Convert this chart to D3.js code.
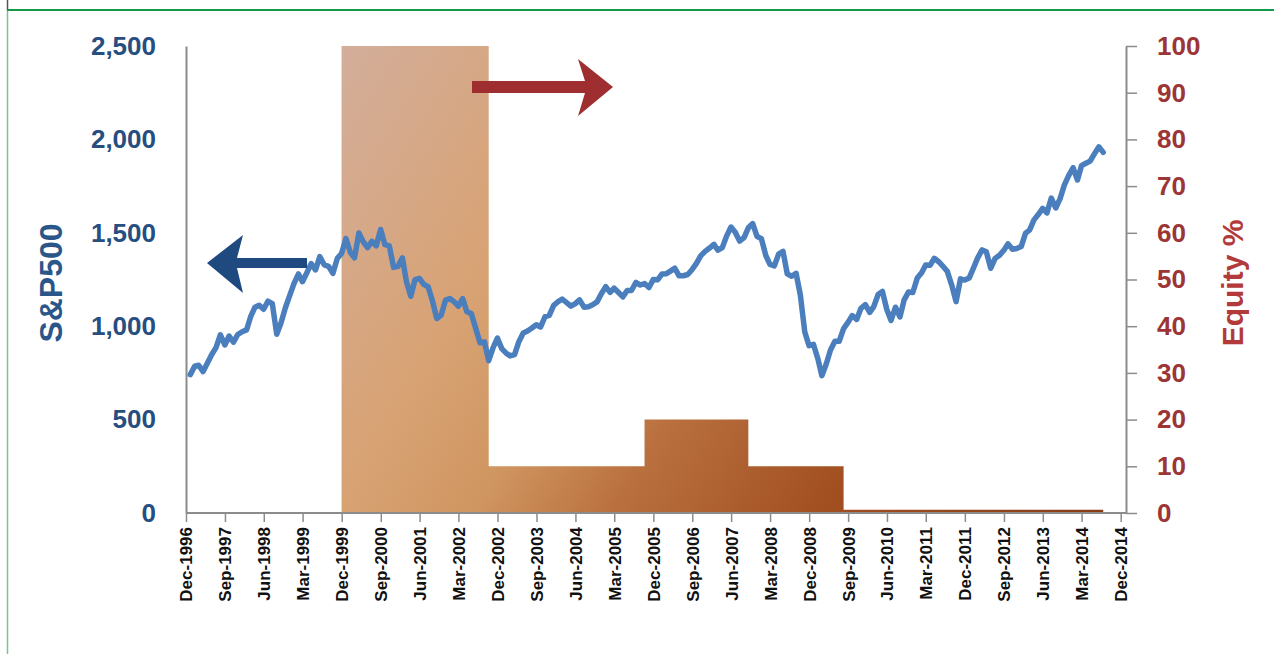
<!DOCTYPE html>
<html>
<head>
<meta charset="utf-8">
<script src="https://cdn.jsdelivr.net/npm/d3@7"></script>
<style>
  body { margin: 0; background: #fff; }
  svg { display: block; font-family: "Liberation Sans", Arial, sans-serif; font-weight: bold; }
</style>
</head>
<body>
<svg id="chart" width="1274" height="654"></svg>
<script>
// S&P500 month-end closes, Dec 1996 .. Jul 2014
const spxStart = "1996-12";
const spxCloses = [
  740.74,
  786.16, 790.82, 757.12, 801.34, 848.28, 885.14, 954.31, 899.47, 947.28, 914.62, 955.40, 970.43,
  980.28, 1049.34, 1101.75, 1111.75, 1090.82, 1133.84, 1120.67, 957.28, 1017.01, 1098.67, 1163.63, 1229.23,
  1279.64, 1238.33, 1286.37, 1335.18, 1301.84, 1372.71, 1328.72, 1320.41, 1282.71, 1362.93, 1388.91, 1469.25,
  1394.46, 1366.42, 1498.58, 1452.43, 1420.60, 1454.60, 1430.83, 1517.68, 1436.51, 1429.40, 1314.95, 1320.28,
  1366.01, 1239.94, 1160.33, 1249.46, 1255.82, 1224.38, 1211.23, 1133.58, 1040.94, 1059.78, 1139.45, 1148.08,
  1130.20, 1106.73, 1147.39, 1076.92, 1067.14, 989.82, 911.62, 916.07, 815.28, 885.76, 936.31, 879.82,
  855.70, 841.15, 848.18, 916.92, 963.59, 974.50, 990.31, 1008.01, 995.97, 1050.71, 1058.20, 1111.92,
  1131.13, 1144.94, 1126.21, 1107.30, 1120.68, 1140.84, 1101.72, 1104.24, 1114.58, 1130.20, 1173.82, 1211.92,
  1181.27, 1203.60, 1180.59, 1156.85, 1191.50, 1191.33, 1234.18, 1220.33, 1228.81, 1207.01, 1249.48, 1248.29,
  1280.08, 1280.66, 1294.83, 1310.61, 1270.09, 1270.20, 1276.66, 1303.82, 1335.85, 1377.94, 1400.63, 1418.30,
  1438.24, 1406.82, 1420.86, 1482.37, 1530.62, 1503.35, 1455.27, 1473.99, 1526.75, 1549.38, 1481.14, 1468.36,
  1378.55, 1330.63, 1322.70, 1385.59, 1400.38, 1280.00, 1267.38, 1282.83, 1166.36, 968.75, 896.24, 903.25,
  825.88, 735.09, 797.87, 872.81, 919.14, 919.32, 987.48, 1020.62, 1057.08, 1036.19, 1095.63, 1115.10,
  1073.87, 1104.49, 1169.43, 1186.69, 1089.41, 1030.71, 1101.60, 1049.33, 1141.20, 1183.26, 1180.55, 1257.64,
  1286.12, 1327.22, 1325.83, 1363.61, 1345.20, 1320.64, 1292.28, 1218.89, 1131.42, 1253.30, 1246.96, 1257.60,
  1312.41, 1365.68, 1408.47, 1397.91, 1310.33, 1362.16, 1379.32, 1406.58, 1440.67, 1412.16, 1416.18, 1426.19,
  1498.11, 1514.68, 1569.19, 1597.57, 1630.74, 1606.28, 1685.73, 1632.97, 1681.55, 1756.54, 1805.81, 1848.36,
  1782.59, 1859.45, 1872.34, 1883.95, 1923.57, 1960.23, 1930.67
];

// equity allocation (%), each level holds from the end of that month
const equityMonths = ["1996-12", "1999-11", "2002-09", "2005-09", "2007-09", "2009-07", "2014-07"];
const equityLevels = [0, 100, 10, 20, 10, 0.7, 0.7];

const xTickLabels = ["Dec-1996", "Sep-1997", "Jun-1998", "Mar-1999", "Dec-1999", "Sep-2000", "Jun-2001",
  "Mar-2002", "Dec-2002", "Sep-2003", "Jun-2004", "Mar-2005", "Dec-2005", "Sep-2006", "Jun-2007",
  "Mar-2008", "Dec-2008", "Sep-2009", "Jun-2010", "Mar-2011", "Dec-2011", "Sep-2012", "Jun-2013",
  "Mar-2014", "Dec-2014"];
const leftTicks = [0, 500, 1000, 1500, 2000, 2500];
const rightTicks = [0, 10, 20, 30, 40, 50, 60, 70, 80, 90, 100];

const parseMonth = d3.timeParse("%Y-%m");
const parseTick = d3.timeParse("%b-%Y");
const monthEnd = m => d3.timeDay.offset(d3.timeMonth.offset(m, 1), -1);

const plotL = 186, plotR = 1126, plotT = 46, plotB = 513;

const svg = d3.select("#chart");

// frame lines of the sheet
svg.append("line").attr("x1", 7.5).attr("x2", 7.5).attr("y1", 0).attr("y2", 10)
  .attr("stroke", "#555").attr("stroke-width", 1.5);
svg.append("line").attr("x1", 7.5).attr("x2", 7.5).attr("y1", 10).attr("y2", 654)
  .attr("stroke", "#74c693").attr("stroke-width", 1.5);
svg.append("line").attr("x1", 7).attr("x2", 1274).attr("y1", 10).attr("y2", 10)
  .attr("stroke", "#129a49").attr("stroke-width", 2);

const tickDates = xTickLabels.map(parseTick);
const x = d3.scaleTime()
  .domain([tickDates[0], tickDates[tickDates.length - 1]])
  .range([plotL, 1120.7]);
const yL = d3.scaleLinear().domain([0, 2500]).range([plotB, plotT]);
const yR = d3.scaleLinear().domain([0, 100]).range([plotB, plotT]);

// gradient for the equity area
const grad = svg.append("defs").append("linearGradient")
  .attr("id", "eqGrad").attr("gradientUnits", "userSpaceOnUse")
  .attr("x1", 340).attr("y1", 46).attr("x2", 1100).attr("y2", 513);
[[0, "#d3ae9b"], [0.27, "#d8a273"], [0.4, "#d09661"], [0.53, "#ba713f"], [0.74, "#a14e20"], [1, "#8a3c15"]]
  .forEach(s => grad.append("stop").attr("offset", s[0]).attr("stop-color", s[1]));

const eqData = equityMonths.map((m, i) => ({ date: monthEnd(parseMonth(m)), v: equityLevels[i] }));
svg.append("path")
  .datum(eqData)
  .attr("fill", "url(#eqGrad)")
  .attr("d", d3.area().curve(d3.curveStepAfter)
    .x(d => x(d.date)).y0(yR(0)).y1(d => yR(d.v)));

// axes
const axisColor = "#8c8c8c";

const gx = svg.append("g").attr("transform", `translate(0,${plotB})`)
  .call(d3.axisBottom(x).tickValues(tickDates).tickFormat(d3.timeFormat("%b-%Y"))
    .tickSize(9).tickSizeOuter(0));
gx.select(".domain").remove();
gx.selectAll(".tick line").attr("stroke", axisColor).attr("stroke-width", 1.5);
gx.selectAll("text")
  .attr("transform", "rotate(-90)")
  .attr("x", -14).attr("y", 0).attr("dy", "0.35em")
  .attr("text-anchor", "end")
  .attr("fill", "#111")
  .style("font-size", "17px");
svg.append("line").attr("x1", plotL).attr("x2", plotR).attr("y1", plotB).attr("y2", plotB)
  .attr("stroke", axisColor).attr("stroke-width", 2);

const gl = svg.append("g").attr("transform", `translate(${plotL},0)`)
  .call(d3.axisLeft(yL).tickValues(leftTicks).tickFormat(d3.format(","))
    .tickSize(0).tickPadding(30).tickSizeOuter(0));
gl.select(".domain").attr("stroke", axisColor).attr("stroke-width", 2);
gl.selectAll("text").attr("fill", "#264e80").style("font-size", "26px");

const gr = svg.append("g").attr("transform", `translate(${plotR},0)`)
  .call(d3.axisRight(yR).tickValues(rightTicks).tickSize(11).tickPadding(20).tickSizeOuter(0));
gr.select(".domain").attr("stroke", axisColor).attr("stroke-width", 2);
gr.selectAll(".tick line").attr("stroke", axisColor).attr("stroke-width", 1.5);
gr.selectAll("text").attr("fill", "#9c3535").style("font-size", "26px");

// axis titles
svg.append("text")
  .attr("transform", "translate(62,283) rotate(-90)")
  .attr("text-anchor", "middle")
  .attr("fill", "#2b5689")
  .style("font-size", "32px")
  .text("S&P500");
svg.append("text")
  .attr("transform", "translate(1243,283) rotate(-90)")
  .attr("text-anchor", "middle")
  .attr("fill", "#b23a3a")
  .style("font-size", "30px")
  .text("Equity %");

// S&P500 line
const spx0 = parseMonth(spxStart);
const spxData = spxCloses.map((v, i) => ({ date: monthEnd(d3.timeMonth.offset(spx0, i)), v }));
svg.append("path")
  .datum(spxData)
  .attr("fill", "none")
  .attr("stroke", "#4a7ebd")
  .attr("stroke-width", 5.5)
  .attr("stroke-linejoin", "round")
  .attr("stroke-linecap", "round")
  .attr("d", d3.line().x(d => x(d.date)).y(d => yL(d.v)));

// arrows pointing to each axis
svg.append("polygon")
  .attr("points", "207,263 243,235 237,258 307,258 307,268 237,268 243,293")
  .attr("fill", "#1f4a80");
svg.append("polygon")
  .attr("points", "613,87 578,59 585,81 472,81 472,93 585,93 578,116")
  .attr("fill", "#9e2e2f");
</script>
</body>
</html>
